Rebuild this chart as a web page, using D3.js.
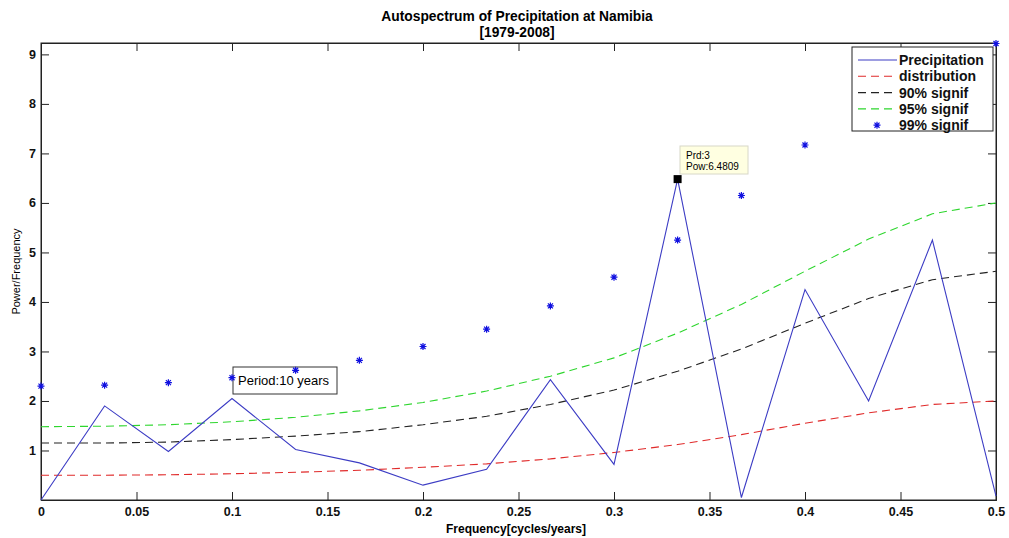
<!DOCTYPE html>
<html>
<head>
<meta charset="utf-8">
<script src="https://cdn.jsdelivr.net/npm/d3@7"></script>
<style>
body { margin: 0; background: #fff; }
svg { display: block; font-family: "Liberation Sans", Arial, sans-serif; }
</style>
</head>
<body>
<div id="graph"></div>
<script>
// frequencies (cycles/year), k/30
var freq = [0, 0.0333, 0.0667, 0.1, 0.1333, 0.1667, 0.2, 0.2333, 0.2667, 0.3, 0.3333, 0.3667, 0.4, 0.4333, 0.4667, 0.5];
var precip = [0.0, 1.9, 0.98, 2.05, 1.02, 0.75, 0.3, 0.62, 2.43, 0.72, 6.4809, 0.05, 4.25, 2.0, 5.25, 0.08];
var distrib = [0.50, 0.50, 0.51, 0.53, 0.56, 0.60, 0.66, 0.73, 0.83, 0.96, 1.12, 1.32, 1.55, 1.76, 1.93, 2.0];
var signif90 = [1.15, 1.15, 1.17, 1.22, 1.29, 1.38, 1.52, 1.69, 1.93, 2.22, 2.60, 3.05, 3.57, 4.07, 4.45, 4.62];
var signif95 = [1.48, 1.49, 1.52, 1.58, 1.67, 1.80, 1.97, 2.20, 2.50, 2.87, 3.37, 3.95, 4.62, 5.27, 5.78, 6.0];
var signif99 = [2.30, 2.32, 2.37, 2.47, 2.62, 2.82, 3.10, 3.45, 3.92, 4.50, 5.25, 6.15, 7.17, 8.20, 8.95, 9.22];

var xTicks = [0, 0.05, 0.1, 0.15, 0.2, 0.25, 0.3, 0.35, 0.4, 0.45, 0.5];
var xTickLabels = ['0', '0.05', '0.1', '0.15', '0.2', '0.25', '0.3', '0.35', '0.4', '0.45', '0.5'];
var yTicks = [1, 2, 3, 4, 5, 6, 7, 8, 9];

var legendNames = ['Precipitation', 'distribution', '90% signif', '95% signif', '99% signif'];
var tipPeriod = 3;
var tipPower = 6.4809;
var periodNote = 'Period:10 years';

const width = 1009;
const height = 538;
const axLeft = 41, axRight = 996, axTop = 43, axBottom = 500;
const tickLen = 8;

const xScale = d3.scaleLinear().domain([0, 0.5]).range([axLeft, axRight]);
const yScale = d3.scaleLinear().domain([0, 9.23]).range([axBottom, axTop]);

let svg = d3.select('#graph')
    .append('svg')
    .attr('width', width)
    .attr('height', height);

// title
svg.append('text')
    .attr('x', 517)
    .attr('y', 21)
    .attr('text-anchor', 'middle')
    .attr('font-size', 13.8)
    .attr('font-weight', 'bold')
    .text('Autospectrum of Precipitation at Namibia');
svg.append('text')
    .attr('x', 517)
    .attr('y', 37)
    .attr('text-anchor', 'middle')
    .attr('font-size', 13.8)
    .attr('font-weight', 'bold')
    .text('[1979-2008]');

// axes (ticks inward, mirrored on top/right)
svg.append('g')
    .attr('transform', `translate(0,${axBottom})`)
    .call(d3.axisBottom(xScale).tickValues(xTicks).tickSize(-tickLen).tickPadding(7)
        .tickFormat((d, i) => xTickLabels[i]));
svg.append('g')
    .attr('transform', `translate(0,${axTop})`)
    .call(d3.axisTop(xScale).tickValues(xTicks).tickSize(-tickLen).tickFormat(''));
svg.append('g')
    .attr('transform', `translate(${axLeft},0)`)
    .call(d3.axisLeft(yScale).tickValues(yTicks).tickSize(-tickLen).tickPadding(5));
svg.append('g')
    .attr('transform', `translate(${axRight},0)`)
    .call(d3.axisRight(yScale).tickValues(yTicks).tickSize(-tickLen).tickFormat(''));

svg.selectAll('.domain').attr('stroke', '#222');
svg.selectAll('.tick line').attr('stroke', '#222');
svg.selectAll('.tick text')
    .attr('font-size', 12.5)
    .attr('font-weight', 'bold')
    .attr('fill', '#111')
    .attr('font-family', '"Liberation Sans", Arial, sans-serif');

svg.append('rect')
    .attr('x', axLeft).attr('y', axTop)
    .attr('width', axRight - axLeft).attr('height', axBottom - axTop)
    .attr('fill', 'none').attr('stroke', '#222');

// axis labels
svg.append('text')
    .attr('x', 516)
    .attr('y', 533)
    .attr('text-anchor', 'middle')
    .attr('font-size', 12)
    .attr('font-weight', 'bold')
    .text('Frequency[cycles/years]');
svg.append('text')
    .attr('transform', `translate(20,${(axTop + axBottom) / 2}) rotate(-90)`)
    .attr('text-anchor', 'middle')
    .attr('font-size', 11)
    .text('Power/Frequency');

// period note box (drawn under the markers)
svg.append('rect')
    .attr('x', 233).attr('y', 367)
    .attr('width', 104).attr('height', 27)
    .attr('fill', '#fff').attr('stroke', '#333');
svg.append('text')
    .attr('x', 238).attr('y', 385)
    .attr('font-size', 13)
    .text(periodNote);

const line = d3.line()
    .x((d, i) => xScale(freq[i]))
    .y((d) => yScale(d));

const series = [
    { data: distrib, color: '#e02a2a', dash: '8,5' },
    { data: signif90, color: '#222', dash: '8,5' },
    { data: signif95, color: '#2ed62e', dash: '8,5' },
    { data: precip, color: '#3c3cc4', dash: null }
];

series.forEach(function(s){
    svg.append('path')
        .attr('d', line(s.data))
        .attr('fill', 'none')
        .attr('stroke', s.color)
        .attr('stroke-width', 1.1)
        .attr('stroke-dasharray', s.dash);
});

function starPath(r){
    var a = r * 0.72;
    return `M${-r},0L${r},0M0,${-r}L0,${r}M${-a},${-a}L${a},${a}M${-a},${a}L${a},${-a}`;
}

svg.selectAll('.star')
    .data(signif99)
    .enter()
    .append('path')
    .attr('class', 'star')
    .attr('transform', (d, i) => `translate(${xScale(freq[i])},${yScale(d)})`)
    .attr('d', starPath(3.5))
    .attr('stroke', '#1010e0')
    .attr('stroke-width', 1.2)
    .attr('fill', 'none');

// data tip
const peak = precip.indexOf(tipPower);
svg.append('rect')
    .attr('x', xScale(freq[peak]) - 4).attr('y', yScale(tipPower) - 4)
    .attr('width', 8).attr('height', 8)
    .attr('fill', '#000');
svg.append('rect')
    .attr('x', 680).attr('y', 146)
    .attr('width', 68).attr('height', 28)
    .attr('fill', '#ffffe1').attr('stroke', '#d8d8c8');
svg.append('text')
    .attr('x', 686).attr('y', 159)
    .attr('font-size', 10)
    .text(`Prd:${tipPeriod}`);
svg.append('text')
    .attr('x', 686).attr('y', 170)
    .attr('font-size', 10)
    .text(`Pow:${tipPower}`);

// legend
let legend = svg.append('g');
legend.append('rect')
    .attr('x', 852).attr('y', 47)
    .attr('width', 141).attr('height', 84)
    .attr('fill', '#fff').attr('stroke', '#222');

const legendStyles = [
    { color: '#3c3cc4', dash: null },
    { color: '#e02a2a', dash: '8,5' },
    { color: '#222', dash: '8,5' },
    { color: '#2ed62e', dash: '8,5' },
    { color: '#1010e0', star: true }
];

legendNames.forEach(function(name, i){
    var y = 60 + i * 16.3;
    var st = legendStyles[i];
    if (st.star) {
        legend.append('path')
            .attr('transform', `translate(877,${y})`)
            .attr('d', starPath(3.5))
            .attr('stroke', st.color)
            .attr('stroke-width', 1.2);
    } else {
        legend.append('line')
            .attr('x1', 858).attr('x2', 897)
            .attr('y1', y).attr('y2', y)
            .attr('stroke', st.color)
            .attr('stroke-width', 1.1)
            .attr('stroke-dasharray', st.dash);
    }
    legend.append('text')
        .attr('x', 899).attr('y', y + 5)
        .attr('font-size', 14)
        .attr('font-weight', 'bold')
        .attr('fill', '#111')
        .text(name);
});
</script>
</body>
</html>
